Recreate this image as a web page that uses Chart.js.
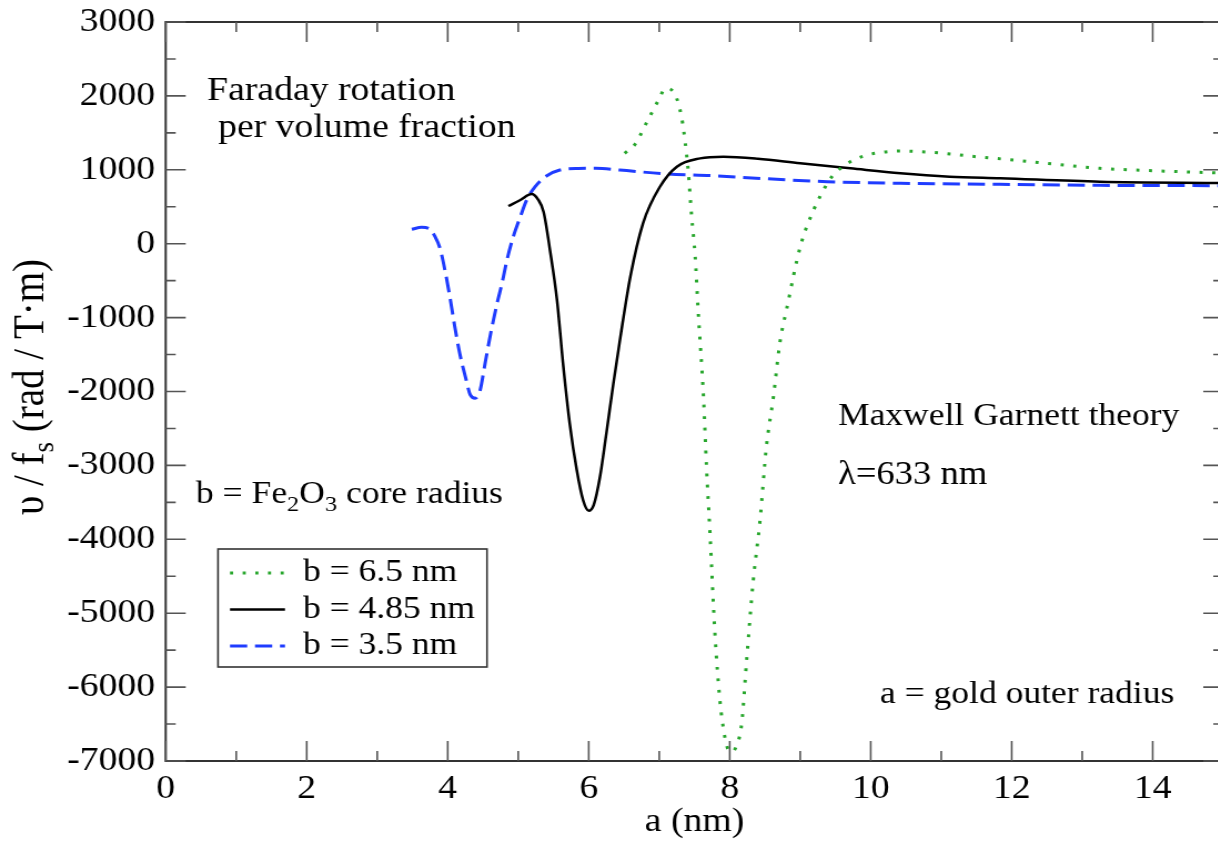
<!DOCTYPE html>
<html>
<head>
<meta charset="utf-8">
<script src="https://cdn.jsdelivr.net/npm/chart.js@4.4.1/dist/chart.umd.min.js"></script>
<style>
  html, body { margin: 0; padding: 0; background: #fff; overflow: hidden; }
  #wrap { position: relative; width: 1218px; height: 846px; overflow: hidden; }
  /* the original figure is stretched sideways a little */
  #stretch { position: absolute; left: 0; top: 0; transform: scaleX(1.11); transform-origin: 0 0; }
</style>
</head>
<body>
<div id="wrap"><div id="stretch"><canvas id="chart" width="1105" height="846"></canvas></div></div>
<script>
// a (nm) and rotation per volume fraction
const aGreen = [6.51, 6.66, 6.82, 6.99, 7.09, 7.22, 7.32, 7.37, 7.41, 7.46, 7.51, 7.55, 7.63, 7.67, 7.72, 7.79, 7.86, 7.93, 7.98, 8.03, 8.09, 8.17, 8.24, 8.33, 8.43, 8.52, 8.62, 8.71, 8.81, 9.0, 9.19, 9.35, 9.45, 9.57, 9.71, 9.9, 10.06, 10.42, 10.79, 11.13, 11.5, 12.02, 12.59, 13.25, 14.0, 15.0];
const vGreen = [1223, 1349, 1637, 1944, 2103, 2026, 1697, 1359, 997, 365, -176, -874, -2115, -3017, -3919, -5272, -6174, -6671, -6851, -6880, -6806, -6490, -5633, -4595, -3739, -2747, -2070, -1348, -874, -41, 456, 760, 907, 1020, 1110, 1187, 1223, 1254, 1241, 1214, 1177, 1133, 1079, 1020, 988, 955];

const aBlack = [4.86, 5.03, 5.19, 5.28, 5.36, 5.45, 5.55, 5.64, 5.73, 5.83, 5.92, 6.0, 6.07, 6.16, 6.25, 6.35, 6.45, 6.59, 6.77, 7.01, 7.25, 7.58, 7.91, 8.4, 9.0, 9.71, 10.42, 11.12, 11.84, 13.25, 15.0];
const vBlack = [510, 591, 672, 600, 430, -85, -762, -1664, -2430, -3062, -3470, -3613, -3536, -3153, -2566, -1889, -1258, -447, 276, 771, 1042, 1155, 1177, 1150, 1088, 1020, 953, 907, 885, 839, 822];

const aBlue = [3.49, 3.63, 3.73, 3.82, 3.89, 3.96, 4.03, 4.1, 4.17, 4.25, 4.32, 4.39, 4.46, 4.53, 4.6, 4.7, 4.77, 4.84, 4.93, 5.03, 5.12, 5.24, 5.4, 5.59, 5.85, 6.1, 6.44, 7.11, 7.77, 8.5, 9.38, 10.42, 11.83, 13.25, 15.0];
const vBlue = [195, 222, 208, 95, -62, -356, -717, -1123, -1483, -1800, -2047, -2092, -1980, -1618, -1258, -807, -536, -221, 95, 365, 591, 771, 916, 997, 1018, 1020, 997, 943, 920, 880, 839, 817, 804, 790, 785];

const seriesLabels = ['b = 6.5 nm', 'b = 4.85 nm', 'b = 3.5 nm'];

const xMin = 0;
const xMax = 15;
const xStep = 2;
const yMin = -7000;
const yMax = 3000;
const yStep = 1000;

const S = 1.11; // horizontal stretch, see #stretch
const sx = (px) => px / S;

const SERIF = '"Liberation Serif", "Times New Roman", Times, serif';
Chart.defaults.font.family = SERIF;
Chart.defaults.color = '#000';

const toPoints = (xs, ys) => xs.map((x, i) => ({ x, y: ys[i] }));

// text with optional subscript pieces, left aligned at baseline
function richText(ctx, pieces, x, y, size) {
  let cx = x;
  pieces.forEach((p) => {
    const s = p.sub ? Math.round(size * 0.68) : size;
    ctx.font = `${s}px ${SERIF}`;
    ctx.fillText(p.t, cx, p.sub ? y + size * 0.25 : y);
    cx += ctx.measureText(p.t).width;
  });
  return cx - x;
}

function richWidth(ctx, pieces, size) {
  let w = 0;
  pieces.forEach((p) => {
    ctx.font = `${p.sub ? Math.round(size * 0.68) : size}px ${SERIF}`;
    w += ctx.measureText(p.t).width;
  });
  return w;
}

const decorations = {
  id: 'decorations',
  afterDraw(chart) {
    const { ctx, chartArea: area, scales: { x, y } } = chart;
    ctx.save();

    // frame
    ctx.strokeStyle = '#333';
    ctx.lineWidth = 2;
    ctx.strokeRect(area.left, area.top, area.right - area.left, area.bottom - area.top);

    // inward ticks on all four sides
    ctx.strokeStyle = '#555';
    ctx.lineWidth = 1.6;
    ctx.beginPath();
    for (let v = xMin; v <= xMax; v += xStep / 2) {
      const px = x.getPixelForValue(v);
      const len = v % xStep === 0 ? 20 : 10;
      ctx.moveTo(px, area.bottom);
      ctx.lineTo(px, area.bottom - len);
      ctx.moveTo(px, area.top);
      ctx.lineTo(px, area.top + len);
    }
    for (let v = yMin; v <= yMax; v += yStep / 2) {
      const py = y.getPixelForValue(v);
      const len = sx(v % yStep === 0 ? 20 : 10);
      ctx.moveTo(area.left, py);
      ctx.lineTo(area.left + len, py);
      ctx.moveTo(area.right, py);
      ctx.lineTo(area.right - len, py);
    }
    ctx.stroke();

    // annotations
    ctx.fillStyle = '#000';
    ctx.textAlign = 'left';
    ctx.textBaseline = 'alphabetic';
    richText(ctx, [{ t: 'Faraday rotation' }], sx(207), 100, 34);
    richText(ctx, [{ t: 'per volume fraction' }], sx(218), 137, 34);
    richText(ctx, [{ t: 'Maxwell Garnett theory' }], sx(838), 425, 32);
    richText(ctx, [{ t: 'λ=633 nm' }], sx(838), 484, 33);
    richText(ctx, [{ t: 'a = gold outer radius' }], sx(880), 703, 32);
    richText(ctx, [
      { t: 'b = Fe' }, { t: '2', sub: true }, { t: 'O' }, { t: '3', sub: true }, { t: ' core radius' },
    ], sx(196), 503, 32);

    // y axis title, rotated
    const yTitle = [{ t: 'υ / f' }, { t: 's', sub: true }, { t: ' (rad / T·m)' }];
    const w = richWidth(ctx, yTitle, 39);
    ctx.save();
    ctx.translate(sx(43), 387);
    ctx.rotate(-Math.PI / 2);
    richText(ctx, yTitle, -w / 2, 0, 39);
    ctx.restore();

    // legend box
    const box = { left: sx(218), top: 549, right: sx(487), bottom: 667 };
    ctx.fillStyle = '#fff';
    ctx.fillRect(box.left, box.top, box.right - box.left, box.bottom - box.top);
    ctx.strokeStyle = '#333';
    ctx.lineWidth = 1.6;
    ctx.strokeRect(box.left, box.top, box.right - box.left, box.bottom - box.top);
    chart.data.datasets.forEach((ds, i) => {
      const rowY = 573 + i * 36.5;
      ctx.save();
      ctx.strokeStyle = ds.borderColor;
      ctx.lineWidth = ds.borderWidth;
      ctx.setLineDash(ds.borderDash || []);
      ctx.beginPath();
      ctx.moveTo(sx(230), rowY);
      ctx.lineTo(sx(285), rowY);
      ctx.stroke();
      ctx.restore();
      ctx.fillStyle = '#000';
      ctx.font = `32px ${SERIF}`;
      ctx.textBaseline = 'middle';
      ctx.fillText(ds.label, sx(303), rowY);
    });

    ctx.restore();
  },
};

new Chart(document.getElementById('chart'), {
  type: 'line',
  data: {
    datasets: [
      {
        label: seriesLabels[0],
        data: toPoints(aGreen, vGreen),
        borderColor: '#27a62c',
        borderWidth: 3,
        borderDash: [2.8, 8.6],
      },
      {
        label: seriesLabels[1],
        data: toPoints(aBlack, vBlack),
        borderColor: '#000',
        borderWidth: 2.5,
      },
      {
        label: seriesLabels[2],
        data: toPoints(aBlue, vBlue),
        borderColor: '#1f3cff',
        borderWidth: 3,
        borderDash: [15.5, 7],
      },
    ],
  },
  options: {
    responsive: false,
    animation: false,
    devicePixelRatio: 1,
    cubicInterpolationMode: 'monotone',
    elements: {
      point: { radius: 0 },
      line: { fill: false },
    },
    layout: {
      padding: { top: 22, right: 3, left: 0, bottom: 0 },
    },
    plugins: {
      legend: { display: false },
      tooltip: { enabled: false },
    },
    scales: {
      x: {
        type: 'linear',
        min: xMin,
        max: xMax,
        grid: { display: false, drawTicks: false },
        border: { display: false },
        ticks: {
          stepSize: xStep,
          includeBounds: false,
          padding: 8,
          maxRotation: 0,
          font: { size: 34 },
          callback: (v) => String(v),
        },
        title: {
          display: true,
          text: 'a (nm)',
          font: { size: 34 },
          padding: { top: 0, bottom: 4 },
        },
        afterFit(scale) {
          scale.height = 85;
          scale.paddingLeft = 0;
          scale.paddingRight = 0;
        },
      },
      y: {
        type: 'linear',
        min: yMin,
        max: yMax,
        grid: { display: false, drawTicks: false },
        border: { display: false },
        ticks: {
          stepSize: yStep,
          padding: 9.5,
          font: { size: 34 },
          callback: (v) => String(v),
        },
        afterFit(scale) {
          scale.width = 149.3;
          scale.paddingTop = 0;
          scale.paddingBottom = 0;
        },
      },
    },
  },
  plugins: [decorations],
});
</script>
</body>
</html>
